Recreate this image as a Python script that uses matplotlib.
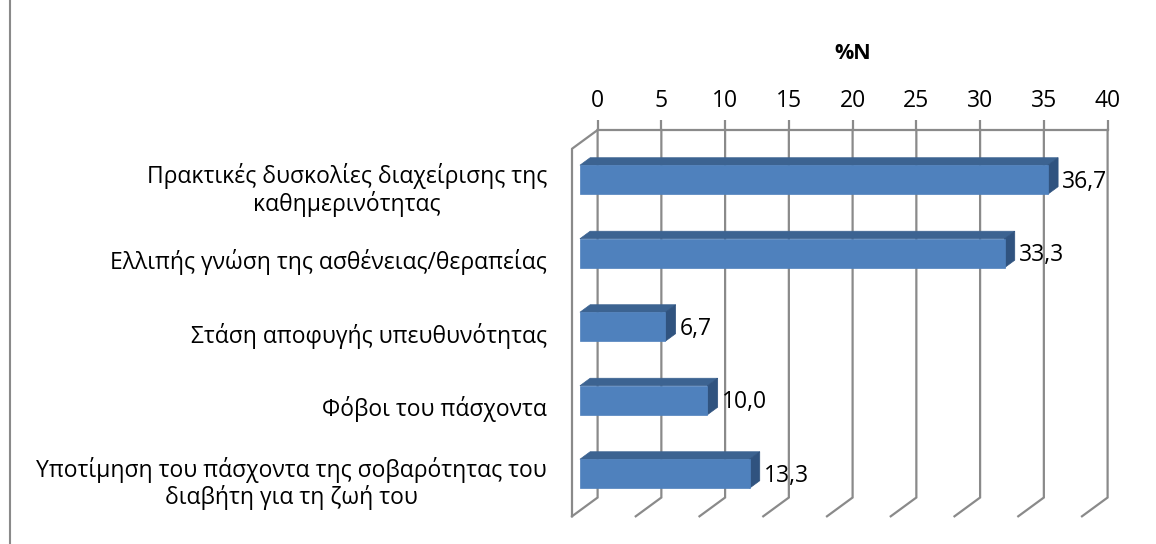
# plot.py
#
# Horizontal 3D-style bar chart (Excel look) with Greek category labels
#

import matplotlib
matplotlib.use("Agg")
import matplotlib.pyplot as plt
from matplotlib.lines import Line2D

plt.rcParams['font.family'] = ['Open Sans', 'DejaVu Sans']

categories = [
    "Πρακτικές δυσκολίες διαχείρισης της\nκαθημερινότητας",
    "Ελλιπής γνώση της ασθένειας/θεραπείας",
    "Στάση αποφυγής υπευθυνότητας",
    "Φόβοι του πάσχοντα",
    "Υποτίμηση του πάσχοντα της σοβαρότητας του\nδιαβήτη για τη ζωή του",
]
values = [36.7, 33.3, 6.7, 10.0, 13.3]
ticks = list(range(0, 41, 5))
axis_title = "%N"

# oblique depth vector (back wall -> front edge), in data units
DX, DY = -2.008, 0.2554
BAR_BACK, BAR_FRONT = 0.29, 0.69   # bar depth as a fraction of the floor depth
BAR_HALF = 0.197

GRID = '#8a8a8a'
FRONT = '#4f81bd'
TOP = '#3c6391'
SIDE = '#30537f'
FS = 16.5


def proj(v, c, d):
    """value, category position, depth (0 = back, 1 = front) -> data coords"""
    return v + d * DX, c + d * DY


def face(points):
    xs, ys = zip(*[proj(*p) for p in points])
    return xs, ys


fig = plt.figure(figsize=(11.56, 5.44), dpi=100)
ax = fig.add_axes([572 / 1156, 27.7 / 544, 535.6 / 1156, 386.3 / 544])
n = len(categories)
ax.set_xlim(DX, ticks[-1])
ax.set_ylim(n - 0.5 + DY, -0.5)
for s in ax.spines.values():
    s.set_visible(False)
ax.patch.set_visible(False)

# walls: back gridlines, floor diagonals, top edge, left wall
top, bottom = -0.5, n - 0.5
for t in ticks:
    xs, ys = face([(t, top, 0), (t, bottom, 0), (t, bottom, 1)])
    ax.plot(xs, ys, color=GRID, lw=1.6, clip_on=False, solid_joinstyle='miter')
xs, ys = face([(ticks[0], top, 0), (ticks[-1], top, 0)])
ax.plot(xs, ys, color=GRID, lw=1.6, clip_on=False)
xs, ys = face([(0, top, 0), (0, top, 1), (0, bottom, 1)])
ax.plot(xs, ys, color=GRID, lw=1.6, clip_on=False)

# bars
for i, v in enumerate(values):
    c0, c1 = i - BAR_HALF, i + BAR_HALF
    xs, ys = face([(0, c0, BAR_BACK), (v, c0, BAR_BACK), (v, c0, BAR_FRONT), (0, c0, BAR_FRONT)])
    ax.fill(xs, ys, color=TOP, lw=0.5, clip_on=False, zorder=3)
    xs, ys = face([(v, c0, BAR_BACK), (v, c1, BAR_BACK), (v, c1, BAR_FRONT), (v, c0, BAR_FRONT)])
    ax.fill(xs, ys, color=SIDE, lw=0.5, clip_on=False, zorder=3)
    xs, ys = face([(0, c0, BAR_FRONT), (v, c0, BAR_FRONT), (v, c1, BAR_FRONT), (0, c1, BAR_FRONT)])
    ax.fill(xs, ys, color=FRONT, lw=0.5, clip_on=False, zorder=4)
    lx, ly = proj(v, i, BAR_BACK)
    ax.annotate(f"{v:.1f}".replace('.', ','), xy=(lx, ly + 0.13), xytext=(3, 0),
                textcoords='offset points', ha='left', va='center', fontsize=FS)

# value axis on top
ax.xaxis.tick_top()
ax.set_xticks(ticks)
ax.set_xticklabels([str(t) for t in ticks], fontsize=FS)
ax.tick_params(axis='x', length=7.2, width=1.6, color=GRID, pad=5)
ax.annotate(axis_title, xy=(20, -0.5), xytext=(0, 55), textcoords='offset points',
            ha='center', va='center', fontsize=15.5, fontweight='bold')

# category labels sit on the front edge of the floor
ax.set_yticks([i + DY for i in range(n)])
ax.set_yticklabels(categories, fontsize=FS, multialignment='center', linespacing=1.12)
ax.tick_params(axis='y', length=0, pad=18)

# left border of the chart area
fig.add_artist(Line2D([9.5 / 1156] * 2, [0, 1], transform=fig.transFigure, color=GRID, lw=1.5))

fig.savefig("out.png", dpi=100)
plt.close(fig)
